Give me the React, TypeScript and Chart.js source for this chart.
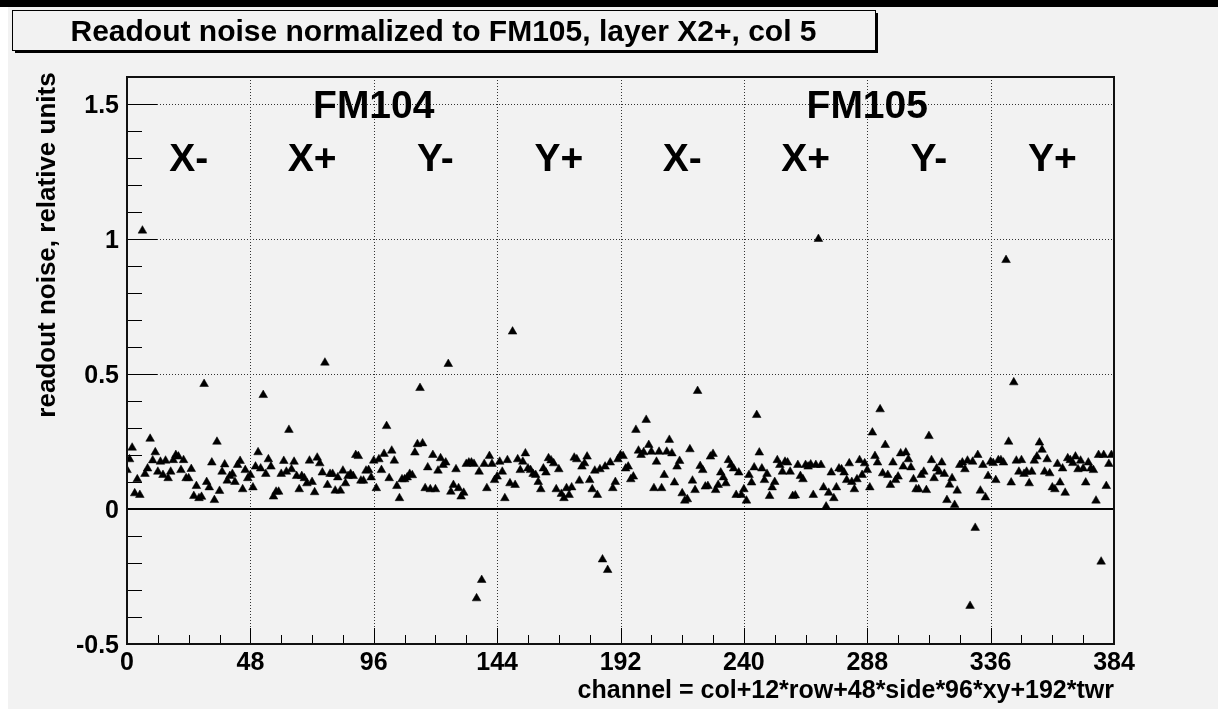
import React, { useEffect, useRef } from "react";
import { Chart, registerables } from "chart.js";

Chart.register(...registerables);

// ---- data: readout noise per channel, 48 channels per section ----
const fm104XMinus = [
  0.144, 0.184, 0.227, 0.058, 0.11, 0.052, 1.031, 0.13, 0.15, 0.26, 0.18, 0.21,
  0.138, 0.175, 0.126, 0.179, 0.114, 0.138, 0.181, 0.2, 0.194, 0.144, 0.181, 0.114,
  0.114, 0.148, 0.048, 0.085, 0.04, 0.045, 0.463, 0.1, 0.08, 0.172, 0.033, 0.249,
  0.067, 0.138, 0.165, 0.105, 0.122, 0.13, 0.1, 0.163, 0.178, 0.073, 0.144, 0.114,
];
const fm104XPlus = [
  0.126, 0.08, 0.157, 0.21, 0.15, 0.422, 0.13, 0.184, 0.157, 0.046, 0.064, 0.064,
  0.13, 0.178, 0.138, 0.293, 0.147, 0.175, 0.122, 0.073, 0.122, 0.114, 0.095, 0.179,
  0.1, 0.062, 0.19, 0.169, 0.135, 0.542, 0.089, 0.13, 0.13, 0.068, 0.117, 0.068,
  0.142, 0.095, 0.122, 0.13, 0.122, 0.2, 0.196, 0.105, 0.105, 0.142, 0.144, 0.117,
];
const fm104YMinus = [
  0.179, 0.077, 0.184, 0.144, 0.204, 0.307, 0.114, 0.216, 0.179, 0.085, 0.04, 0.11,
  0.11, 0.117, 0.13, 0.125, 0.209, 0.24, 0.448, 0.243, 0.077, 0.154, 0.073, 0.2,
  0.073, 0.142, 0.188, 0.163, 0.172, 0.537, 0.064, 0.089, 0.147, 0.077, 0.046, 0.06,
  0.167, 0.172, 0.172, 0.167, -0.331, 0.138, -0.263, 0.167, 0.077, 0.196, 0.167, 0.107,
];
const fm104YPlus = [
  0.12, 0.175, 0.138, 0.04, 0.181, 0.095, 0.657, 0.089, 0.184, 0.144, 0.175, 0.206,
  0.15, 0.144, 0.13, 0.126, 0.1, 0.073, 0.15, 0.135, 0.188, 0.18, 0.169, 0.073,
  0.147, 0.056, 0.04, 0.077, 0.052, 0.08, 0.19, 0.184, 0.105, 0.157, 0.169, 0.194,
  0.107, 0.073, 0.142, 0.052, 0.147, -0.187, 0.157, -0.226, 0.172, 0.077, 0.1, 0.184,
];
const fm105XMinus = [
  0.2, 0.196, 0.15, 0.157, 0.11, 0.12, 0.293, 0.216, 0.2, 0.21, 0.33, 0.237,
  0.212, 0.077, 0.175, 0.212, 0.077, 0.126, 0.212, 0.256, 0.206, 0.098, 0.157, 0.178,
  0.058, 0.031, 0.036, 0.221, 0.105, 0.07, 0.437, 0.159, 0.144, 0.083, 0.085, 0.194,
  0.204, 0.07, 0.089, 0.135, 0.117, 0.095, 0.181, 0.163, 0.15, 0.052, 0.135, 0.052,
];
const fm105XPlus = [
  0.073, 0.031, 0.126, 0.098, 0.154, 0.348, 0.209, 0.15, 0.107, 0.13, 0.048, 0.08,
  0.1, 0.181, 0.163, 0.138, 0.175, 0.172, 0.138, 0.048, 0.05, 0.163, 0.122, 0.11,
  0.163, 0.157, 0.165, 0.052, 0.163, 1.0, 0.163, 0.08, 0.009, 0.06, 0.135, 0.04,
  0.08, 0.15, 0.147, 0.135, 0.107, 0.169, 0.1, 0.073, 0.11, 0.181, 0.126, 0.169,
];
const fm105YMinus = [
  0.144, 0.08, 0.283, 0.196, 0.172, 0.369, 0.132, 0.237, 0.126, 0.089, 0.172, 0.107,
  0.12, 0.206, 0.157, 0.209, 0.184, 0.154, 0.11, 0.073, 0.073, 0.126, 0.138, 0.07,
  0.27, 0.181, 0.114, 0.15, 0.138, 0.172, 0.13, 0.033, 0.09, 0.114, 0.015, 0.068,
  0.163, 0.172, 0.147, 0.179, -0.359, 0.175, -0.07, 0.2, 0.068, 0.163, 0.043, 0.122,
];
const fm105YPlus = [
  0.175, 0.17, 0.107, 0.181, 0.181, 0.172, 0.922, 0.249, 0.098, 0.469, 0.179, 0.138,
  0.181, 0.13, 0.138, 0.095, 0.138, 0.179, 0.194, 0.246, 0.219, 0.138, 0.184, 0.132,
  0.08, 0.073, 0.167, 0.098, 0.15, 0.06, 0.188, 0.181, 0.17, 0.194, 0.147, 0.179,
  0.15, 0.098, 0.172, 0.15, 0.144, 0.031, 0.2, -0.195, 0.2, 0.085, 0.167, 0.2,
];

const xTickValues = [0, 48, 96, 144, 192, 240, 288, 336, 384];
const xTickLabels = ["0", "48", "96", "144", "192", "240", "288", "336", "384"];
const yTickValues = [-0.5, 0, 0.5, 1, 1.5];
const yTickLabels = ["-0.5", "0", "0.5", "1", "1.5"];
const sectionLabels = ["X-", "X+", "Y-", "Y+", "X-", "X+", "Y-", "Y+"];
const sectionCenters = [24, 72, 120, 168, 216, 264, 312, 360];
const moduleLabels = ["FM104", "FM105"];
const moduleCenters = [96, 288];

const TITLE = "Readout noise normalized to FM105, layer X2+, col 5";
const X_TITLE = "channel = col+12*row+48*side*96*xy+192*twr";
const Y_TITLE = "readout noise, relative units";

const sections = [
  fm104XMinus, fm104XPlus, fm104YMinus, fm104YPlus,
  fm105XMinus, fm105XPlus, fm105YMinus, fm105YPlus,
];
const noise: number[] = ([] as number[]).concat(...sections);
const points = noise.map((v, i) => ({ x: i, y: v }));

const FAMILY = '"Liberation Sans", Arial, Helvetica, sans-serif';
const bold = (s: number) => `bold ${s}px ${FAMILY}`;

const CW = 1210;
const CH = 702;

const rootLook = {
  id: "rootLook",
  beforeDraw(chart: any) {
    const ctx = chart.ctx;
    ctx.save();
    ctx.fillStyle = "#f2f2f2";
    ctx.fillRect(0, 0, chart.width, chart.height);
    ctx.restore();
  },
  beforeDatasetsDraw(chart: any) {
    const { ctx, chartArea: a } = chart;
    const xs = chart.scales.x;
    const ys = chart.scales.y;
    ctx.save();
    ctx.strokeStyle = "#333";
    ctx.lineWidth = 1;
    ctx.setLineDash([1, 2]);
    ctx.beginPath();
    xTickValues.slice(1, -1).forEach((v) => {
      const px = Math.round(xs.getPixelForValue(v)) + 0.5;
      ctx.moveTo(px, a.top);
      ctx.lineTo(px, a.bottom);
    });
    yTickValues
      .filter((v) => v !== 0 && v !== -0.5)
      .forEach((v) => {
        const py = Math.round(ys.getPixelForValue(v)) + 0.5;
        ctx.moveTo(a.left, py);
        ctx.lineTo(a.right, py);
      });
    ctx.stroke();
    ctx.setLineDash([]);

    ctx.fillStyle = "#000";
    ctx.textAlign = "center";
    ctx.textBaseline = "alphabetic";
    const lsize = 39;
    ctx.font = bold(lsize);
    moduleLabels.forEach((t, i) => {
      ctx.fillText(t, xs.getPixelForValue(moduleCenters[i]), ys.getPixelForValue(1.5) + lsize * 0.358);
    });
    sectionLabels.forEach((t, i) => {
      ctx.fillText(t, xs.getPixelForValue(sectionCenters[i]), ys.getPixelForValue(1.302) + lsize * 0.358);
    });
    ctx.restore();
  },
  afterDatasetsDraw(chart: any) {
    const { ctx, chartArea: a } = chart;
    const xs = chart.scales.x;
    const ys = chart.scales.y;
    ctx.save();
    ctx.setLineDash([]);
    // zero line
    ctx.strokeStyle = "#000";
    ctx.lineWidth = 2;
    const y0 = Math.round(ys.getPixelForValue(0));
    ctx.beginPath();
    ctx.moveTo(a.left, y0);
    ctx.lineTo(a.right, y0);
    ctx.stroke();

    // ticks
    ctx.lineWidth = 1;
    ctx.strokeStyle = "#000";
    ctx.beginPath();
    for (let v = 0; v <= 384; v += 12) {
      const px = Math.round(xs.getPixelForValue(v)) + 0.5;
      const len = v % 48 === 0 ? 16 : 9;
      ctx.moveTo(px, a.bottom);
      ctx.lineTo(px, a.bottom - len);
    }
    for (let k = -5; k <= 16; k++) {
      const py = Math.round(ys.getPixelForValue(k / 10)) + 0.5;
      const len = k % 5 === 0 ? 30 : 15;
      ctx.moveTo(a.left, py);
      ctx.lineTo(a.left + len, py);
    }
    ctx.stroke();

    // frame
    ctx.lineWidth = 2;
    ctx.strokeStyle = "#111";
    ctx.strokeRect(a.left, a.top, a.right - a.left, a.bottom - a.top);

    // tick labels
    ctx.fillStyle = "#000";
    ctx.font = bold(25);
    ctx.textAlign = "center";
    ctx.textBaseline = "alphabetic";
    xTickValues.forEach((v, i) => {
      ctx.fillText(xTickLabels[i], xs.getPixelForValue(v), a.bottom + 8 + 25 * 0.716);
    });
    ctx.textAlign = "right";
    yTickValues.forEach((v, i) => {
      ctx.fillText(yTickLabels[i], a.left - 8, ys.getPixelForValue(v) + 25 * 0.358);
    });

    // axis titles
    ctx.font = bold(25);
    ctx.textAlign = "right";
    ctx.fillText(X_TITLE, a.right, 691);
    ctx.save();
    ctx.translate(47, 238);
    ctx.rotate(-Math.PI / 2);
    ctx.textAlign = "center";
    ctx.font = bold(26);
    ctx.fillText(Y_TITLE, 0, 0);
    ctx.restore();

    // title box with shadow
    const bx = 4, by = 3, bw = 863, bh = 40;
    ctx.fillStyle = "#000";
    ctx.fillRect(bx + 3, by + 3, bw, bh);
    ctx.fillStyle = "#f2f2f2";
    ctx.fillRect(bx, by, bw, bh);
    ctx.lineWidth = 1;
    ctx.strokeStyle = "#000";
    ctx.strokeRect(bx + 0.5, by + 0.5, bw, bh);
    ctx.fillStyle = "#000";
    ctx.font = bold(30);
    ctx.textAlign = "center";
    ctx.fillText(TITLE, bx + bw / 2, by + bh / 2 + 30 * 0.358);
    ctx.restore();
  },
};

export default function App() {
  const ref = useRef<HTMLCanvasElement | null>(null);
  useEffect(() => {
    if (!ref.current) return;
    const chart = new Chart(ref.current, {
      type: "scatter",
      data: {
        datasets: [
          {
            data: points,
            pointStyle: "triangle",
            pointRadius: 5,
            pointBackgroundColor: "#000",
            pointBorderColor: "#000",
            pointBorderWidth: 0.5,
          },
        ],
      },
      options: {
        responsive: false,
        animation: false,
        events: [],
        layout: { padding: { left: 119, top: 70, right: 104, bottom: 65 } },
        plugins: { legend: { display: false }, tooltip: { enabled: false }, title: { display: false } },
        scales: {
          x: { type: "linear", min: 0, max: 384, display: false },
          y: { type: "linear", min: -0.5, max: 1.6, display: false },
        },
      },
      plugins: [rootLook],
    });
    return () => chart.destroy();
  }, []);
  return (
    <div style={{ position: "fixed", left: 0, top: 0, width: 1218, height: 710, background: "#fff", overflow: "hidden" }}>
      <div style={{ position: "absolute", left: 0, top: 0, width: 1218, height: 7, background: "#000" }} />
      <canvas
        ref={ref}
        width={CW}
        height={CH}
        style={{ position: "absolute", left: 8, top: 7, width: CW, height: CH }}
      />
    </div>
  );
}
